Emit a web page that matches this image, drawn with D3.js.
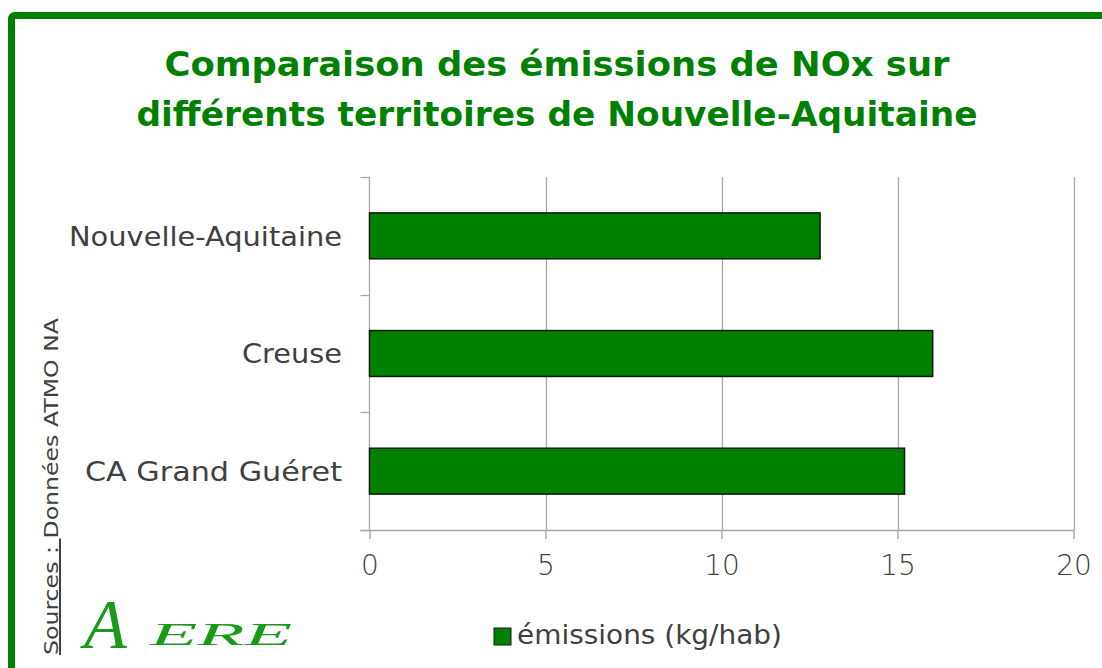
<!DOCTYPE html>
<html lang="fr">
<head>
<meta charset="utf-8">
<script src="https://cdn.jsdelivr.net/npm/d3@7"></script>
<style>
  html, body { margin: 0; padding: 0; background: #fff; }
  svg { display: block; }
</style>
</head>
<body>
<svg id="chart" width="1102" height="668"></svg>
<script>
// Territoires comparés (haut en bas) et émissions de NOx par habitant
const categories = ["Nouvelle-Aquitaine", "Creuse", "CA Grand Guéret"];
const emissions = [12.8, 16.0, 15.2];
const xTicks = [0, 5, 10, 15, 20];
const titleLines = ["Comparaison des émissions de NOx sur", "différents territoires de Nouvelle-Aquitaine"];
const legendLabel = "émissions (kg/hab)";

const green = "#008000";
const textGray = "#404040";
const gridGray = "#a6a6a6";

const svg = d3.select("#chart");

// Cadre vert
svg.append("rect")
  .attr("x", 11.5).attr("y", 15.5)
  .attr("width", 1140).attr("height", 700)
  .attr("rx", 3)
  .attr("fill", "none")
  .attr("stroke", green)
  .attr("stroke-width", 7);

// Titre
const titleFont = "'DejaVu Sans', sans-serif";
const titleWidths = [785, 841];
svg.append("g").selectAll("text")
  .data(titleLines)
  .join("text")
  .attr("x", 557)
  .attr("y", (d, i) => 76 + i * 50)
  .attr("text-anchor", "middle")
  .attr("font-family", titleFont)
  .attr("font-weight", "bold")
  .attr("font-size", 34)
  .attr("fill", green)
  .attr("textLength", (d, i) => titleWidths[i])
  .attr("lengthAdjust", "spacingAndGlyphs")
  .text(d => d);

// Zone de tracé
const plot = { left: 369.5, right: 1073.5, top: 177, bottom: 530 };

const x = d3.scaleLinear()
  .domain([xTicks[0], xTicks[xTicks.length - 1]])
  .range([plot.left, plot.right]);

const y = d3.scaleBand()
  .domain(categories)
  .range([plot.top, plot.bottom])
  .padding(0);

const barFrac = 0.39;
const labelFont = "'DejaVu Sans', sans-serif";
const labelWidths = [273, 100, 257];

// Grille verticale
svg.append("g")
  .selectAll("line")
  .data(xTicks.slice(1))
  .join("line")
  .attr("x1", d => Math.round(x(d)) + 0.5)
  .attr("x2", d => Math.round(x(d)) + 0.5)
  .attr("y1", plot.top)
  .attr("y2", plot.bottom)
  .attr("stroke", gridGray)
  .attr("stroke-width", 1.3);

// Axe horizontal
const xAxis = d3.axisBottom(x)
  .tickValues(xTicks)
  .tickSize(9)
  .tickPadding(16)
  .tickFormat(d3.format("d"));

const gx = svg.append("g")
  .attr("transform", `translate(0,${plot.bottom})`)
  .call(xAxis);
gx.select(".domain").remove();
gx.append("line")
  .attr("x1", plot.left - 9).attr("x2", plot.right)
  .attr("y1", 0.5).attr("y2", 0.5)
  .attr("stroke", gridGray).attr("stroke-width", 1.3);
gx.selectAll(".tick line").attr("stroke", gridGray).attr("stroke-width", 1.3);
gx.selectAll(".tick text")
  .attr("fill", textGray)
  .attr("font-family", labelFont)
  .attr("font-size", 28)
  .attr("font-weight", 300);

// Axe vertical (catégories)
const bandTicks = [plot.top, ...categories.map(c => y(c) + y.bandwidth())];
const gy = svg.append("g");
gy.append("line")
  .attr("x1", plot.left).attr("x2", plot.left)
  .attr("y1", plot.top).attr("y2", plot.bottom)
  .attr("stroke", gridGray).attr("stroke-width", 1.3);
gy.selectAll("line.tk")
  .data(bandTicks)
  .join("line")
  .attr("class", "tk")
  .attr("x1", plot.left - 9).attr("x2", plot.left)
  .attr("y1", d => Math.round(d) + 0.5)
  .attr("y2", d => Math.round(d) + 0.5)
  .attr("stroke", gridGray).attr("stroke-width", 1.3);
gy.selectAll("text")
  .data(categories)
  .join("text")
  .attr("x", 342)
  .attr("y", d => y(d) + y.bandwidth() / 2)
  .attr("dy", "0.36em")
  .attr("text-anchor", "end")
  .attr("fill", textGray)
  .attr("font-family", labelFont)
  .attr("font-size", 27)
  .attr("textLength", (d, i) => labelWidths[i])
  .attr("lengthAdjust", "spacingAndGlyphs")
  .text(d => d);

// Barres
svg.append("g")
  .selectAll("rect")
  .data(categories.map((c, i) => ({ c, v: emissions[i] })))
  .join("rect")
  .attr("x", x(0))
  .attr("y", d => y(d.c) + y.bandwidth() * (1 - barFrac) / 2)
  .attr("width", d => x(d.v) - x(0))
  .attr("height", y.bandwidth() * barFrac)
  .attr("fill", green)
  .attr("stroke", "#0d1a0d")
  .attr("stroke-width", 1.5);

// Légende
const legend = svg.append("g").attr("transform", "translate(494,628)");
legend.append("rect")
  .attr("width", 17).attr("height", 17)
  .attr("fill", green)
  .attr("stroke", "#1a1a1a")
  .attr("stroke-width", 1);
legend.append("text")
  .attr("x", 23).attr("y", 16)
  .attr("fill", textGray)
  .attr("font-family", labelFont)
  .attr("font-size", 26)
  .attr("textLength", 265)
  .attr("lengthAdjust", "spacingAndGlyphs")
  .text(legendLabel);

// Source (texte vertical)
const src = svg.append("text")
  .attr("transform", "translate(58,655) rotate(-90)")
  .attr("fill", textGray)
  .attr("font-family", labelFont)
  .attr("font-size", 20)
  .attr("textLength", 337)
  .attr("lengthAdjust", "spacingAndGlyphs");
src.append("tspan").attr("text-decoration", "underline").text("Sources : ");
src.append("tspan").text("Données ATMO NA");

// Logo AERE
const logo = svg.append("g").attr("fill", "#1a9a1a");
logo.append("text")
  .attr("x", 84).attr("y", 648)
  .attr("font-family", "'Liberation Serif', serif")
  .attr("font-style", "italic")
  .attr("font-size", 70)
  .text("A");
logo.append("text")
  .attr("x", 150).attr("y", 645)
  .attr("font-family", "'Liberation Serif', serif")
  .attr("font-style", "italic")
  .attr("font-size", 32)
  .attr("textLength", 142)
  .attr("lengthAdjust", "spacingAndGlyphs")
  .text("ERE");
</script>
</body>
</html>
